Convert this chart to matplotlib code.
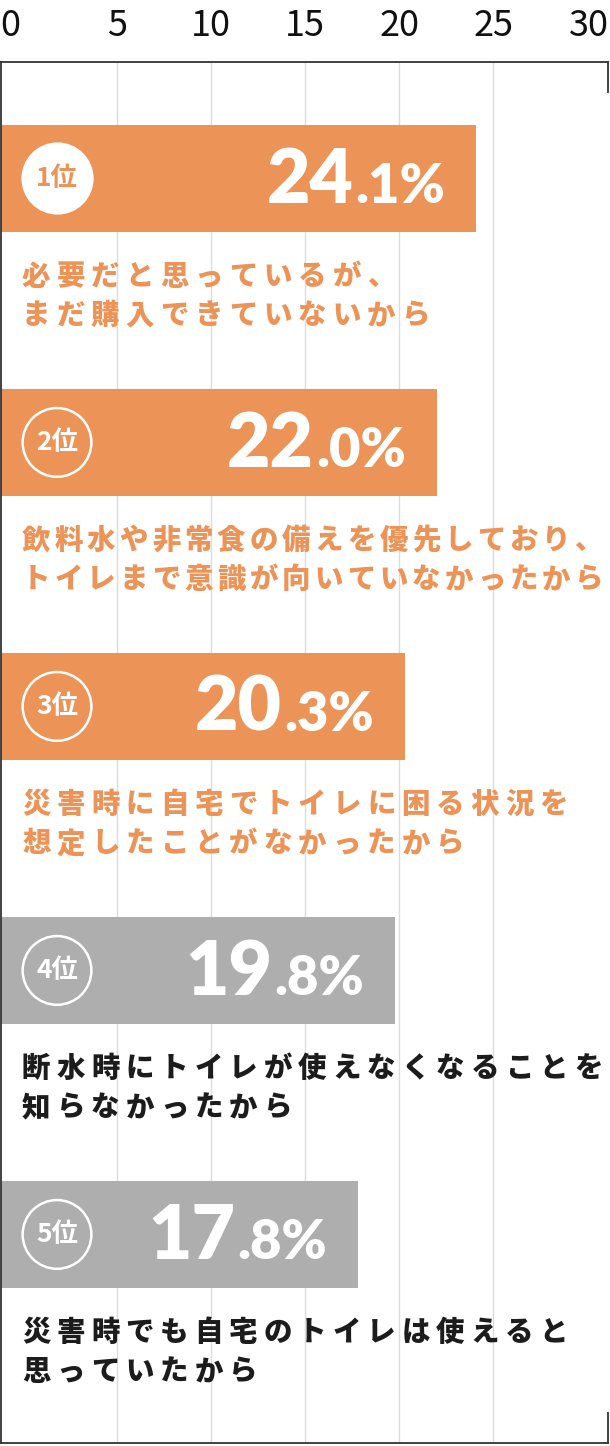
import matplotlib
matplotlib.use('Agg')
import matplotlib.pyplot as plt
import matplotlib.transforms as mtransforms
import numpy as np

# data
ranks = ['1位', '2位', '3位', '4位', '5位']
values = [24.1, 22.0, 20.3, 19.8, 17.8]
value_labels = ['24.1%', '22.0%', '20.3%', '19.8%', '17.8%']
reasons = [
    ['必要だと思っているが、', 'まだ購入できていないから'],
    ['飲料水や非常食の備えを優先しており、', 'トイレまで意識が向いていなかったから'],
    ['災害時に自宅でトイレに困る状況を', '想定したことがなかったから'],
    ['断水時にトイレが使えなくなることを', '知らなかったから'],
    ['災害時でも自宅のトイレは使えると', '思っていたから'],
]
xticks = [0, 5, 10, 15, 20, 25, 30]

ORANGE = '#EC9458'
GREY = '#AEAEAE'
DARK = '#1c1c1c'
colors = [ORANGE, ORANGE, ORANGE, GREY, GREY]
text_colors = [ORANGE, ORANGE, ORANGE, DARK, DARK]
pitches = [34.5, 32.5, 34.5, 34.5, 34.5]   # letter pitch of reason text, px

plt.rcParams['font.family'] = ['Noto Sans CJK JP', 'DejaVu Sans']

W, H = 610, 1446
fig = plt.figure(figsize=(W / 100, H / 100), dpi=100)
ax = fig.add_axes([1 / W, 3 / H, 607 / W, (1443 - 62) / H])

y = np.arange(len(values))
x0 = -1.17
ax.barh(y, np.array(values) - x0, left=x0, height=0.405, color=colors, zorder=2)
ax.set_xlim(x0, 31.1)
ax.set_ylim(4.79, -0.441)

# axis / grid
ax.xaxis.tick_top()
ax.set_xticks(xticks)
ax.tick_params(axis='x', length=0, pad=13, labelsize=26, labelcolor='#111111')
ax.set_yticks([])
ax.grid(axis='x', color='#dcdcdc', linewidth=1, zorder=0)
gl = ax.xaxis.get_gridlines()
gl[0].set_visible(False)
gl[-1].set_visible(False)
lbl0 = ax.get_xticklabels()[0]
lbl0.set_transform(lbl0.get_transform() +
                   mtransforms.ScaledTranslation(-13 / 100, 0, fig.dpi_scale_trans))
lbl_last = ax.get_xticklabels()[-1]
lbl_last.set_transform(lbl_last.get_transform() +
                       mtransforms.ScaledTranslation(2 / 100, 0, fig.dpi_scale_trans))
for s in ['top', 'left', 'bottom']:
    ax.spines[s].set_color('#333333')
    ax.spines[s].set_linewidth(1.3)
ax.spines['right'].set_visible(False)
seg = 30 / 1381
ax.plot([1, 1], [1, 1 - seg], transform=ax.transAxes, color='#333333', lw=1.3, clip_on=False)
ax.plot([1, 1], [0, seg], transform=ax.transAxes, color='#333333', lw=1.3, clip_on=False)

blend = mtransforms.blended_transform_factory(ax.transAxes, ax.transData)

for i, (rank, val, vlab) in enumerate(zip(ranks, values, value_labels)):
    # rank badge
    bx = 56 / 607
    if i == 0:
        ax.scatter([bx], [i], s=2600, color='white', transform=blend, zorder=3)
        rc = ORANGE
    else:
        ax.scatter([bx], [i], s=2450, facecolor='none', edgecolor='white',
                   linewidth=1.8, transform=blend, zorder=3)
        rc = 'white'
    ax.text(bx, i, rank, transform=blend, ha='center', va='center',
            fontsize=19, fontweight='bold', color=rc, zorder=4)

    # value label: big integer part, smaller decimal part
    ip, dp = vlab.split('.')
    base = mtransforms.offset_copy(ax.transData, fig=fig, x=-31, y=-24.5, units='dots')
    dec = ax.text(val, i, '.' + dp, transform=base, ha='right', va='baseline',
                  fontsize=39, fontfamily='Lato', fontweight='heavy', color='white', zorder=4)
    ax.annotate(ip, xy=(0, i), xycoords=(dec, base), xytext=(-2, 0),
                textcoords='offset pixels', ha='right', va='baseline',
                fontsize=54, fontfamily='Lato', fontweight='heavy', color='white', zorder=4)

    # reason text, two lines, letter-spaced
    for j, line in enumerate(reasons[i]):
        dy = [-98, -137][j]
        for k, ch in enumerate(line):
            tr = mtransforms.offset_copy(blend, fig=fig, x=k * pitches[i], y=dy, units='dots')
            ax.text(21 / 607, i, ch, transform=tr, ha='left', va='center',
                    fontsize=20.5, fontweight='heavy', color=text_colors[i])

plt.savefig('out.png', dpi=100)
